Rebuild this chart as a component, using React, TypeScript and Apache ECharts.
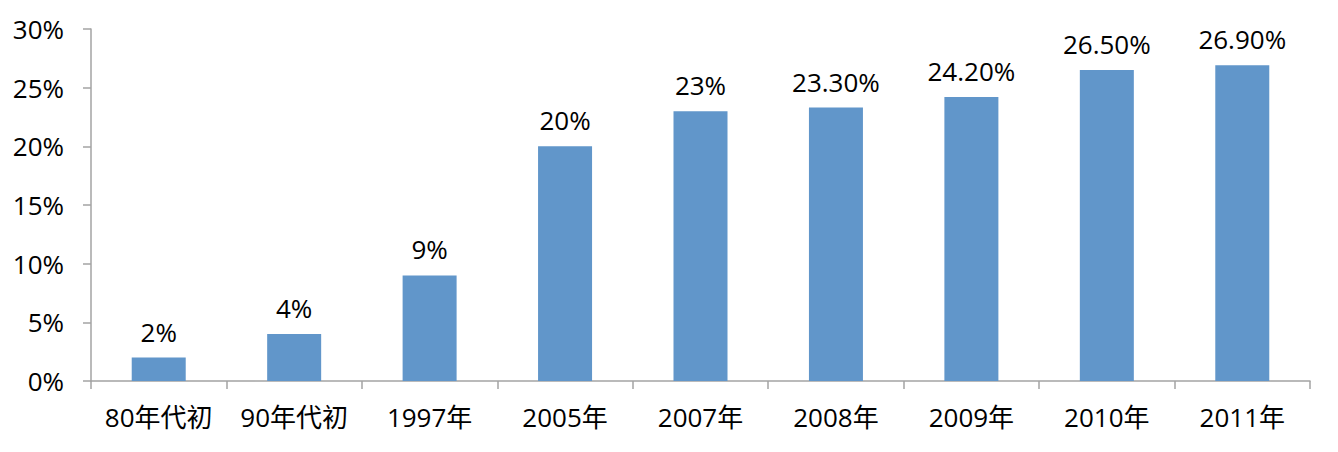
import React, { useEffect, useRef } from "react";
import * as echarts from "echarts";

const categories = ["80年代初", "90年代初", "1997年", "2005年", "2007年", "2008年", "2009年", "2010年", "2011年"];
const values = [2, 4, 9, 20, 23, 23.3, 24.2, 26.5, 26.9];
const valueLabels = ["2%", "4%", "9%", "20%", "23%", "23.30%", "24.20%", "26.50%", "26.90%"];
const yTicks = [0, 5, 10, 15, 20, 25, 30];

const FONT = "'Open Sans', 'Noto Sans CJK SC', sans-serif";
const AXIS_COLOR = "#a3a3a3";

export default function App() {
  const ref = useRef<HTMLDivElement>(null);
  useEffect(() => {
    if (!ref.current) return;
    const chart = echarts.init(ref.current, undefined, { renderer: "svg" });
    chart.setOption({
      animation: false,
      backgroundColor: "#ffffff",
      grid: { left: 91, right: 28, top: 29, bottom: 71, containLabel: false },
      xAxis: {
        type: "category",
        data: categories,
        axisLine: { lineStyle: { color: AXIS_COLOR, width: 1.5 } },
        axisTick: { show: true, length: 8, lineStyle: { color: AXIS_COLOR, width: 1.5 } },
        axisLabel: { color: "#000", fontSize: 26, fontFamily: FONT, margin: 23, interval: 0 },
      },
      yAxis: {
        type: "value",
        min: yTicks[0],
        max: yTicks[yTicks.length - 1],
        interval: 5,
        splitLine: { show: false },
        axisLine: { show: true, lineStyle: { color: AXIS_COLOR, width: 1.5 } },
        axisTick: { show: true, length: 8, lineStyle: { color: AXIS_COLOR, width: 1.5 } },
        axisLabel: {
          color: "#000",
          fontSize: 26,
          fontFamily: FONT,
          margin: 27,
          formatter: (v: number) => `${v}%`,
        },
      },
      series: [
        {
          type: "bar",
          data: values,
          barWidth: 54,
          itemStyle: { color: "#6196ca" },
          label: {
            show: true,
            position: "top",
            distance: 13,
            color: "#000",
            fontSize: 26,
            fontFamily: FONT,
            formatter: (p: any) => valueLabels[p.dataIndex],
          },
        },
      ],
    });
    return () => chart.dispose();
  }, []);
  return (
    <div
      ref={ref}
      style={{ position: "fixed", left: 0, top: 0, width: 1338, height: 452, background: "#fff" }}
    />
  );
}
